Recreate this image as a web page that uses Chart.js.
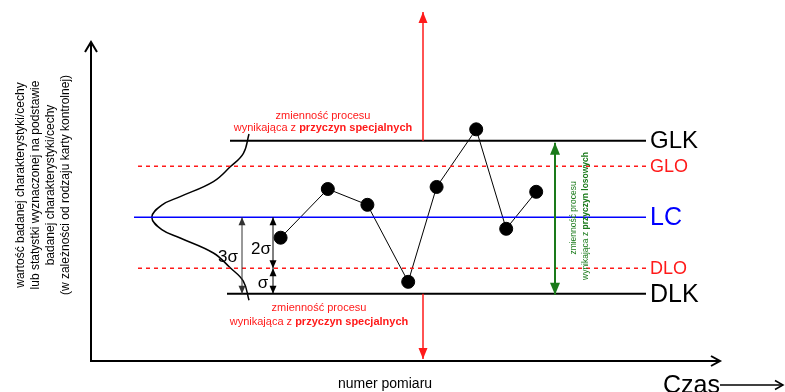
<!DOCTYPE html>
<html lang="pl">
<head>
<meta charset="UTF-8">
<title>Karta kontrolna</title>
<script src="https://cdn.jsdelivr.net/npm/chart.js"></script>
<style>
  body { margin: 0; background: #fff; }
  #wrap { width: 785px; height: 392px; }
</style>
</head>
<body>
<div id="wrap"><canvas id="controlChart" width="785" height="392"></canvas></div>
<script>
// control limits, in units of sigma around the centre line
const limitNames = ['GLK', 'GLO', 'LC', 'DLO', 'DLK'];
const limitValues = [3, 2, 0, -2, -3];
const limitStart = [3.475, 1.175, 1.075, 1.175, 3.4];
const limitEnd = 13.875;

// measurements (x = numer pomiaru on the time axis, y = value in sigma)
const pointX = [4.74, 5.92, 6.91, 7.93, 8.64, 9.63, 10.38, 11.13];
const pointY = [-0.80, 1.11, 0.49, -2.53, 1.19, 3.45, -0.45, 1.00];

// distribution curve lying on its side
const curveX = [3.95, 3.81, 3.48, 3.06, 2.23, 1.77, 1.52, 1.77, 2.23, 3.06, 3.48, 3.81, 3.95];
const curveY = [3.27, 2.51, 1.98, 1.40, 0.81, 0.48, 0, -0.48, -0.81, -1.40, -1.98, -2.51, -3.25];

const RED = '#ff1a1a';
const BLUE = '#0000ff';
const GREEN = '#1a7a1a';
const FONT = '"Liberation Sans", Arial, sans-serif';

const limitStyle = {
  GLK: { color: '#000', width: 2, dash: [], size: 24 },
  GLO: { color: RED, width: 1.5, dash: [4, 4], size: 18 },
  LC:  { color: BLUE, width: 1.5, dash: [], size: 25 },
  DLO: { color: RED, width: 1.5, dash: [4, 4], size: 18 },
  DLK: { color: '#000', width: 2, dash: [], size: 25 }
};

const limitSets = limitNames.map((name, i) => ({
  label: name,
  data: [{ x: limitStart[i], y: limitValues[i] }, { x: limitEnd, y: limitValues[i] }],
  showLine: true,
  borderColor: limitStyle[name].color,
  borderWidth: limitStyle[name].width,
  borderDash: limitStyle[name].dash,
  pointRadius: 0
}));

function head(ctx, tx, ty, dx, dy, len, half, filled) {
  const px = -dy, py = dx;
  ctx.beginPath();
  ctx.moveTo(tx - dx * len + px * half, ty - dy * len + py * half);
  ctx.lineTo(tx, ty);
  ctx.lineTo(tx - dx * len - px * half, ty - dy * len - py * half);
  if (filled) { ctx.closePath(); ctx.fill(); } else { ctx.stroke(); }
}

function arrowLine(ctx, x1, y1, x2, y2, color, width, both, filled, len, half) {
  ctx.save();
  ctx.strokeStyle = color; ctx.fillStyle = color; ctx.lineWidth = width;
  ctx.beginPath(); ctx.moveTo(x1, y1); ctx.lineTo(x2, y2); ctx.stroke();
  const d = Math.hypot(x2 - x1, y2 - y1);
  const dx = (x2 - x1) / d, dy = (y2 - y1) / d;
  head(ctx, x2, y2, dx, dy, len, half, filled);
  if (both) head(ctx, x1, y1, -dx, -dy, len, half, filled);
  ctx.restore();
}

// "normal" + "bold" text on one line, centred at cx
function mixedLine(ctx, cx, cy, normal, bold, size, color) {
  ctx.save();
  ctx.fillStyle = color;
  ctx.textBaseline = 'middle';
  ctx.textAlign = 'left';
  ctx.font = size + 'px ' + FONT;
  const w1 = ctx.measureText(normal).width;
  ctx.font = 'bold ' + size + 'px ' + FONT;
  const w2 = ctx.measureText(bold).width;
  const x0 = cx - (w1 + w2) / 2;
  ctx.font = size + 'px ' + FONT;
  ctx.fillText(normal, x0, cy);
  ctx.font = 'bold ' + size + 'px ' + FONT;
  ctx.fillText(bold, x0 + w1, cy);
  ctx.restore();
}

const diagram = {
  id: 'diagram',
  beforeDatasetsDraw(chart) {
    const { ctx, scales: { x, y } } = chart;
    const left = x.left, bottom = y.bottom;
    ctx.save();
    ctx.strokeStyle = '#000';
    ctx.lineWidth = 2;
    ctx.lineJoin = 'miter';
    ctx.beginPath();
    ctx.moveTo(left, y.top);
    ctx.lineTo(left, bottom);
    ctx.lineTo(x.right, bottom);
    ctx.stroke();
    head(ctx, left, y.top, 0, -1, 10, 6, false);
    head(ctx, x.right, bottom, 1, 0, 9, 5, false);
    ctx.restore();
  },
  afterDatasetsDraw(chart) {
    const { ctx, scales: { x, y } } = chart;
    const yGLK = y.getPixelForValue(limitValues[0]);
    const yDLK = y.getPixelForValue(limitValues[4]);
    const yLC = y.getPixelForValue(limitValues[2]);
    const yDLO = y.getPixelForValue(limitValues[3]);

    // limit labels
    limitNames.forEach((name, i) => {
      const s = limitStyle[name];
      ctx.save();
      ctx.fillStyle = s.color;
      ctx.font = s.size + 'px ' + FONT;
      ctx.textBaseline = 'middle';
      ctx.fillText(name, x.getPixelForValue(limitEnd) + 4, y.getPixelForValue(limitValues[i]) + 1);
      ctx.restore();
    });

    // special-cause arrows (red)
    const xr = x.getPixelForValue(8.3);
    arrowLine(ctx, xr, yGLK, xr, 12, RED, 1.5, false, true, 11, 4.5);
    arrowLine(ctx, xr, yDLK, xr, y.bottom - 2, RED, 1.5, false, true, 11, 4.5);

    // random-cause arrow (green)
    const xg = x.getPixelForValue(11.6);
    arrowLine(ctx, xg, yGLK + 2, xg, yDLK + 1, GREEN, 2, true, true, 12, 5);

    // sigma arrows
    const x3 = x.getPixelForValue(3.775);
    const x2 = x.getPixelForValue(4.55);
    arrowLine(ctx, x3, yLC, x3, yDLK, '#333', 1, true, true, 8, 3.5);
    arrowLine(ctx, x2, yLC, x2, yDLO, '#000', 1, true, true, 8, 3.5);
    arrowLine(ctx, x2, yDLO, x2, yDLK, '#000', 1, true, true, 8, 3.5);

    ctx.save();
    ctx.fillStyle = '#000';
    ctx.textAlign = 'center';
    ctx.textBaseline = 'middle';
    ctx.font = '17px ' + FONT;
    ctx.fillText('3σ', 228, 257);
    ctx.fillText('2σ', 261, 249);
    ctx.fillText('σ', 263, 283);
    ctx.restore();

    // red captions
    const xc = x.getPixelForValue(5.8);
    ctx.save();
    ctx.fillStyle = RED;
    ctx.textAlign = 'center';
    ctx.textBaseline = 'middle';
    ctx.font = '11px ' + FONT;
    ctx.fillText('zmienność procesu', xc, 116);
    ctx.fillText('zmienność procesu', xc - 4, 308);
    ctx.restore();
    mixedLine(ctx, xc, 128, 'wynikająca z ', 'przyczyn specjalnych', 11, RED);
    mixedLine(ctx, xc - 4, 322, 'wynikająca z ', 'przyczyn specjalnych', 11, RED);

    // green caption, rotated
    ctx.save();
    ctx.translate(0, 0);
    ctx.rotate(-Math.PI / 2);
    ctx.fillStyle = GREEN;
    ctx.textAlign = 'center';
    ctx.textBaseline = 'middle';
    ctx.font = '8.5px ' + FONT;
    ctx.fillText('zmienność procesu', -218, 574);
    ctx.restore();
    ctx.save();
    ctx.translate(586, 216);
    ctx.rotate(-Math.PI / 2);
    mixedLine(ctx, 0, 0, 'wynikająca z ', 'przyczyn losowych', 8.5, GREEN);
    ctx.restore();

    // y axis title
    const yTitle = ['wartość badanej charakterystyki/cechy',
                    'lub statystki wyznaczonej na podstawie',
                    'badanej charakterystyki/cechy',
                    '(w zależności od rodzaju karty kontrolnej)'];
    ctx.save();
    ctx.rotate(-Math.PI / 2);
    ctx.fillStyle = '#000';
    ctx.textAlign = 'center';
    ctx.textBaseline = 'middle';
    ctx.font = '12px ' + FONT;
    yTitle.forEach((t, i) => ctx.fillText(t, -185, 20.5 + i * 15));
    ctx.restore();

    // x axis captions
    ctx.save();
    ctx.fillStyle = '#000';
    ctx.textBaseline = 'middle';
    ctx.textAlign = 'center';
    ctx.font = '14px ' + FONT;
    ctx.fillText('numer pomiaru', 385, 384);
    ctx.textAlign = 'left';
    ctx.textBaseline = 'alphabetic';
    ctx.font = '25px ' + FONT;
    ctx.fillText('Czas', 663, 393);
    ctx.restore();
    arrowLine(ctx, 720, 385, 783, 385, '#000', 1.5, false, false, 8, 4.5);
  }
};

new Chart(document.getElementById('controlChart'), {
  type: 'scatter',
  data: {
    datasets: [
      ...limitSets,
      {
        label: 'rozkład',
        data: curveX.map((v, i) => ({ x: v, y: curveY[i] })),
        showLine: true,
        borderColor: '#000',
        borderWidth: 1.5,
        tension: 0.4,
        pointRadius: 0
      },
      {
        label: 'pomiary',
        data: pointX.map((v, i) => ({ x: v, y: pointY[i] })),
        showLine: true,
        borderColor: '#000',
        borderWidth: 1,
        pointRadius: 6.5,
        pointBackgroundColor: '#000',
        pointBorderColor: '#000'
      }
    ]
  },
  options: {
    responsive: false,
    animation: false,
    devicePixelRatio: 1,
    layout: { padding: { left: 91, right: 65, top: 42, bottom: 31 } },
    scales: {
      x: { type: 'linear', display: false, min: 0, max: 15.725 },
      y: { type: 'linear', display: false, min: -5.635, max: 6.875 }
    },
    plugins: { legend: { display: false }, tooltip: { enabled: false } },
    clip: false
  },
  plugins: [diagram]
});
</script>
</body>
</html>
